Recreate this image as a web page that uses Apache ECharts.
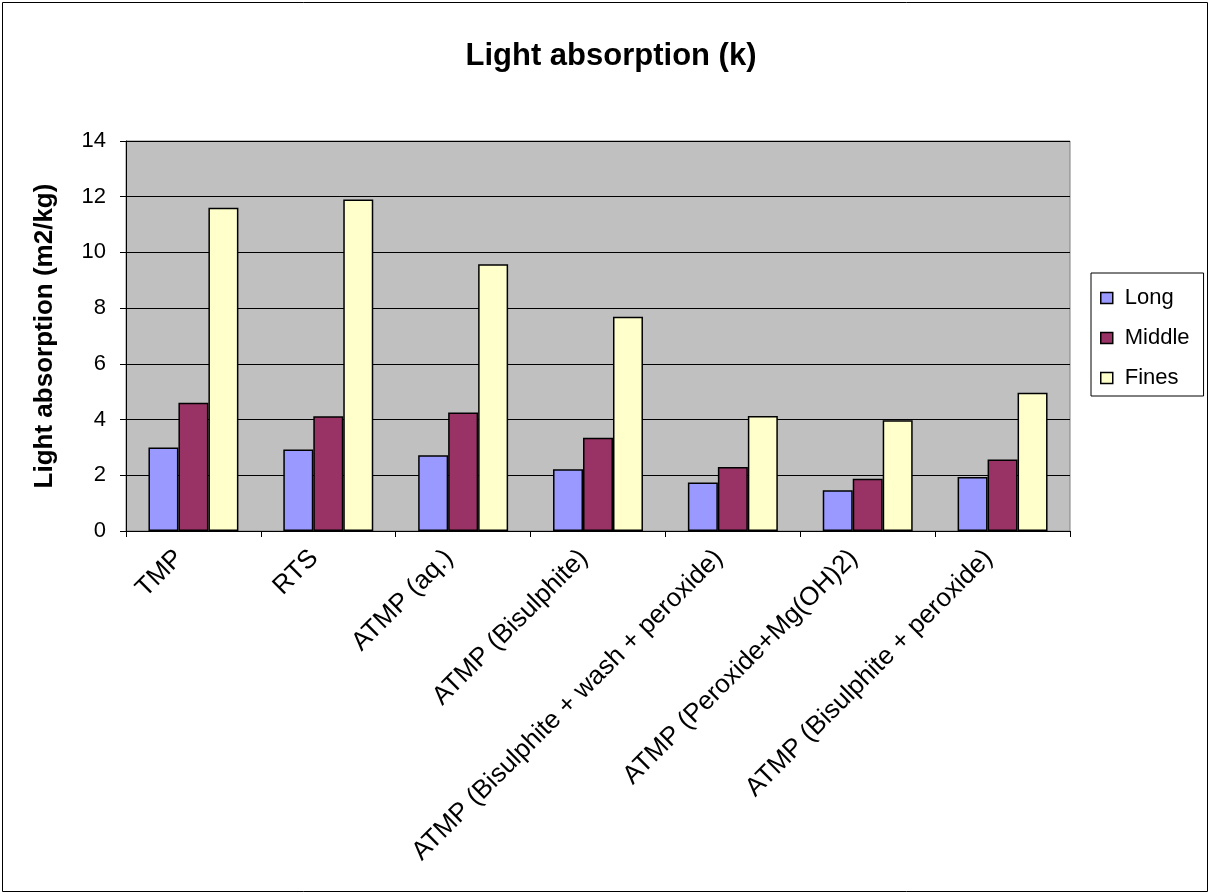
<!DOCTYPE html>
<html><head><meta charset="utf-8">
<script src="https://cdn.jsdelivr.net/npm/echarts@6/dist/echarts.min.js"></script>
<style>html,body{margin:0;padding:0;background:#fff}#c{width:1210px;height:894px}</style>
</head><body><div id="c"></div>
<script>
var categories = ["TMP","RTS","ATMP (aq.)","ATMP (Bisulphite)","ATMP (Bisulphite + wash + peroxide)","ATMP (Peroxide+Mg(OH)2)","ATMP (Bisulphite + peroxide)"];
var longVals = [3.0, 2.93, 2.72, 2.22, 1.74, 1.46, 1.94];
var middleVals = [4.6, 4.12, 4.25, 3.35, 2.3, 1.88, 2.57];
var finesVals = [11.6, 11.9, 9.58, 7.69, 4.13, 3.98, 4.96];
var seriesNames = ["Long","Middle","Fines"];
var seriesColors = ["#9999FF","#993366","#FFFFCC"];

var chart = echarts.init(document.getElementById('c'));
var font = 'Liberation Sans, Arial, sans-serif';
function mk(name, data, color){
  return {name:name,type:'bar',data:data,barGap:'0%',barCategoryGap:'33.3%',
    itemStyle:{color:color,borderColor:'#000',borderWidth:1.5}};
}
chart.setOption({
  animation:false,
  textStyle:{fontFamily:font},
  title:{text:'Light absorption (k)',left:606,textAlign:'center',top:36,
    textStyle:{fontFamily:font,fontSize:31,fontWeight:'bold',color:'#000'}},
  graphic:[{type:'rect',shape:{x:2.5,y:2.5,width:1205,height:889},style:{fill:'none',stroke:'#000',lineWidth:1},z:-1}],
  legend:{orient:'vertical',left:1091,top:273,padding:[13,14,6,9],itemGap:16,
    borderColor:'#000',borderWidth:1,backgroundColor:'#fff',
    itemWidth:12,itemHeight:11,icon:'rect',
    itemStyle:{borderColor:'#000',borderWidth:1.5},
    textStyle:{fontFamily:font,fontSize:22,lineHeight:24,color:'#000',padding:[0,0,0,7]},
    data:seriesNames},
  grid:{left:126,right:140,top:141,bottom:363,containLabel:false,show:true,backgroundColor:'#C0C0C0',borderColor:'#808080',borderWidth:1},
  xAxis:{type:'category',data:categories,
    axisLine:{lineStyle:{color:'#000',width:1}},
    axisTick:{show:true,alignWithLabel:false,length:6,lineStyle:{color:'#000'}},
    axisLabel:{rotate:45,fontSize:26,color:'#000',fontFamily:font,margin:9,interval:0,padding:[0,20,0,0]}},
  yAxis:{type:'value',min:0,max:14,interval:2,
    name:'Light absorption (m2/kg)',nameLocation:'middle',nameGap:68,nameRotate:90,
    nameTextStyle:{fontFamily:font,fontSize:26,fontWeight:'bold',color:'#000'},
    axisLine:{show:true,lineStyle:{color:'#000'}},
    axisTick:{show:true,length:6,lineStyle:{color:'#000'}},
    axisLabel:{fontSize:22,color:'#000',fontFamily:font,margin:20},
    splitLine:{show:true,lineStyle:{color:'#000',width:1}}},
  series:[mk(seriesNames[0],longVals,seriesColors[0]),mk(seriesNames[1],middleVals,seriesColors[1]),mk(seriesNames[2],finesVals,seriesColors[2])]
});
</script></body></html>
